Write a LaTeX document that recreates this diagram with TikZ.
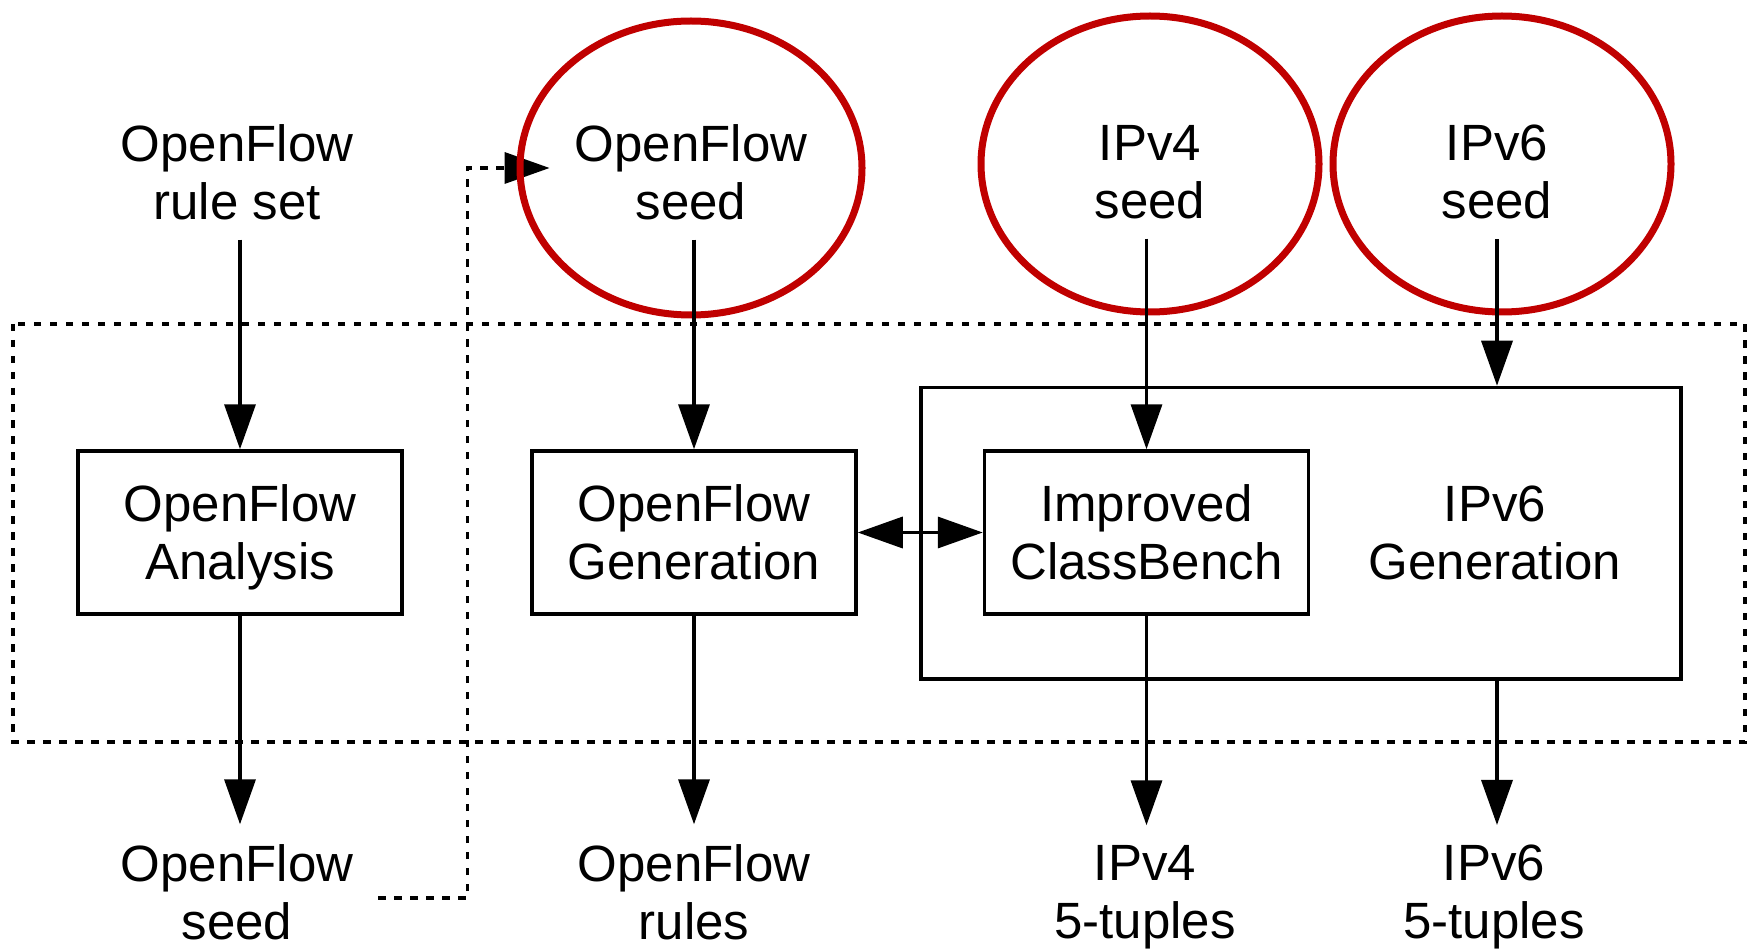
\documentclass[tikz,border=0pt]{standalone}
\usepackage{fontspec}
\setmainfont{Liberation Sans}
\usepackage{xcolor}
\usetikzlibrary{arrows.meta}
\definecolor{seedred}{RGB}{192,0,0}

\begin{document}
\begin{tikzpicture}[x=1pt,y=1pt,yscale=-1,xscale=1,
  lbl/.style={align=center,font=\fontsize{51}{58}\selectfont,inner xsep=25pt,inner ysep=20pt,text depth=0pt},
  blk/.style={draw,line width=3.5pt,align=center,font=\fontsize{51}{58}\selectfont,text depth=0pt,minimum width=324pt,minimum height=163pt},
  flow/.style={line width=3.5pt,-{Triangle[length=45pt,width=31pt]}},
  dotline/.style={line width=3.5pt,dash pattern=on 7.5pt off 8.5pt},
  ring/.style={draw=seedred,line width=7pt}]
\useasboundingbox (0,0) rectangle (1756,949);

%Shape: Rectangle [dotted frame]
\draw [dotline] (13,324) rectangle (1745,742);

%Text: top row
\node [lbl] (ofset) at (237,172) {OpenFlow\\rule set};
\node [lbl] (ofseed) at (691,172) {OpenFlow\\seed};
\node [lbl] (ipvfourseed) at (1150,172) {IPv4\\seed};
\node [lbl] (ipvsixseed) at (1497,172) {IPv6\\seed};

%Shape: Rectangle [blocks]
\node [blk] (ofana) at (240,532.5) {OpenFlow\\Analysis};
\node [blk] (ofgen) at (694,532.5) {OpenFlow\\Generation};
\node [blk] (cbench) at (1146.5,532.5) {Improved\\ClassBench};
\node [draw,line width=3.5pt,minimum width=760pt,minimum height=291.5pt] (ipvsixbox) at (1301,533.25) {};
\node [align=center,font=\fontsize{51}{58}\selectfont,text depth=0pt] (ipvsixgen) at (1495,532.5) {IPv6\\Generation};

%Text: bottom row
\node [lbl] (ofseedout) at (237,892) {OpenFlow\\seed};
\node [lbl] (ofrules) at (694,892) {OpenFlow\\rules};
\node [lbl] (ipvfourtup) at (1145,892) {IPv4\\5-tuples};
\node [lbl] (ipvsixtup) at (1494,892) {IPv6\\5-tuples};

%Straight Lines [dotted feedback]
\draw [dotline,-{Triangle[length=45pt,width=31pt]}] ([yshift=6pt]ofseedout.east) -- ++(89,0) |- ([yshift=-4pt]ofseed.west);

%Shape: Ellipse [seeds]
\draw [ring] (691,168) ellipse (171 and 147);
\draw [ring] (1150,164) ellipse (169 and 148);
\draw [ring] (1502,164) ellipse (169 and 148);

%Straight Lines [inputs]
\draw [flow] (ofset.south -| ofana.north) -- (ofana.north);
\draw [flow] (ofseed.south -| ofgen.north) -- (ofgen.north);
\draw [flow] (ipvfourseed.south -| cbench.north) -- (cbench.north);
\draw [flow] (ipvsixseed.south) -- (ipvsixseed.south |- ipvsixbox.north);

%Straight Lines [outputs]
\draw [flow] (ofana.south) -- (ofana.south |- ofseedout.north);
\draw [flow] (ofgen.south) -- (ofrules.north);
\draw [flow] (cbench.south) -- (cbench.south |- ipvfourtup.north);
\draw [flow] (ipvsixbox.south -| ipvsixseed.south) -- (ipvsixseed.south |- ipvsixtup.north);

%Straight Lines [double arrow]
\draw [line width=3.5pt,{Triangle[length=45pt,width=31pt]}-{Triangle[length=45pt,width=31pt]}] (ofgen.east) -- (cbench.west);
\end{tikzpicture}
\end{document}
